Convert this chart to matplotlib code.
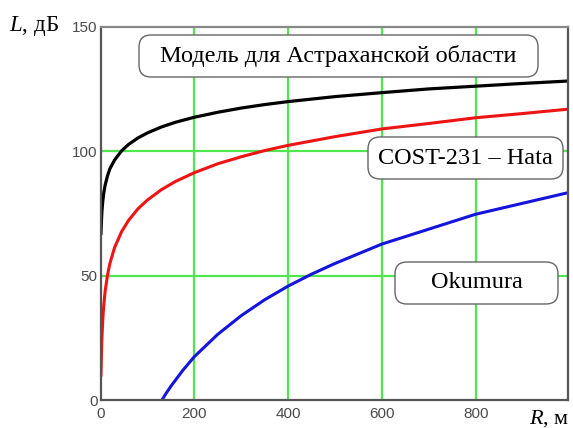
import matplotlib
matplotlib.use("Agg")
import matplotlib.pyplot as plt
from matplotlib.patches import FancyBboxPatch

plt.rcParams['mathtext.fontset'] = 'custom'
plt.rcParams['mathtext.it'] = 'Liberation Serif:italic'
plt.rcParams['mathtext.rm'] = 'Liberation Serif'

# model for Astrakhan region (black)
r_astr = [1, 2, 3, 5, 7, 10, 15, 20, 30, 45, 60, 80, 100, 130, 160, 200,
          250, 300, 350, 400, 500, 600, 700, 800, 900, 1000]
l_astr = [67, 72, 75.8, 80.2, 83.3, 86.5, 90.2, 93, 96.5, 100.2, 102.8, 105.4, 107.4, 109.8, 111.7, 113.7,
          115.7, 117.4, 118.8, 120, 122, 123.6, 125.1, 126.2, 127.3, 128.3]

# COST-231 Hata (red)
r_hata = [1, 2, 3, 5, 7, 10, 15, 20, 30, 45, 60, 80, 100, 130, 160, 200,
          250, 300, 350, 400, 500, 600, 700, 800, 900, 1000]
l_hata = [10, 18.4, 24.8, 32.9, 38.2, 43.9, 50.3, 54.9, 61.3, 67.7, 72.3, 76.9, 80.4, 84.6, 87.9, 91.4,
          95, 97.8, 100.3, 102.4, 105.9, 109, 111.2, 113.5, 115.2, 117]

# Okumura (blue)
r_oku = [131, 140, 150, 175, 200, 250, 300, 350, 400, 450, 500, 600, 700, 800, 900, 1000]
l_oku = [0, 2.7, 5.5, 11.8, 17.4, 26.4, 33.9, 40.3, 45.8, 50.6, 54.9, 62.7, 68.7, 74.7, 79.1, 83.5]

x_ticks = [0, 200, 400, 600, 800]
y_ticks = [0, 50, 100, 150]

W, H = 573, 428
fig = plt.figure(figsize=(W / 100, H / 100), dpi=100)
ax = fig.add_axes([100.5 / W, 1 - 400 / H, (568 - 100.5) / W, (400 - 27) / H])

ax.plot(r_astr, l_astr, color='black', lw=2.3)
ax.plot(r_hata, l_hata, color='#ee1414', lw=2.2)
ax.plot(r_oku, l_oku, color='#1414dc', lw=2.2)

ax.set_xlim(0, 997)
ax.set_ylim(0, 150)
ax.set_xticks(x_ticks)
ax.set_yticks(y_ticks)
for v in x_ticks[1:]:
    ax.axvline(v, color='#50e650', lw=1.6, zorder=0)
for v in y_ticks[1:3]:
    ax.axhline(v, color='#50e650', lw=1.6, zorder=0)

ax.tick_params(length=0, labelsize=11, labelcolor='#4a4a4a', pad=2)
ax.tick_params(axis='x', pad=5)
for lab in ax.get_xticklabels() + ax.get_yticklabels():
    lab.set_family('Liberation Sans')
for s in ax.spines.values():
    s.set_color('#555555')
    s.set_linewidth(1.6)
ax.spines['top'].set_color('#888888')

serif = 'Liberation Serif'
fig.text(9 / W, 1 - 26 / H, r"$L$, дБ", family=serif, fontsize=16.5, va='center', ha='left')
fig.text(569 / W, 1 - 419 / H, r"$R$, м", family=serif, fontsize=16, va='center', ha='right')

# rounded label boxes (pixel coords: x0, y0 top, x1, y1 bottom)
boxes = [
    ("Модель для Астраханской области", 139, 35, 538, 77),
    ("COST-231 – Hata", 368, 137, 563, 179),
    ("Okumura", 395, 262, 558, 304),
]
for txt, x0, y0, x1, y1 in boxes:
    p = FancyBboxPatch((x0 / 100, (H - y1) / 100), (x1 - x0) / 100, (y1 - y0) / 100,
                       boxstyle="round,pad=0,rounding_size=0.12",
                       transform=fig.dpi_scale_trans, facecolor='white',
                       edgecolor='#666666', lw=1.0, zorder=5)
    fig.patches.append(p)
    fig.text((x0 + x1) / 2 / W, 1 - (y0 + y1) / 2 / H, txt, family=serif,
             fontsize=17.5, ha='center', va='center', zorder=6)

fig.savefig('out.png', dpi=100)
